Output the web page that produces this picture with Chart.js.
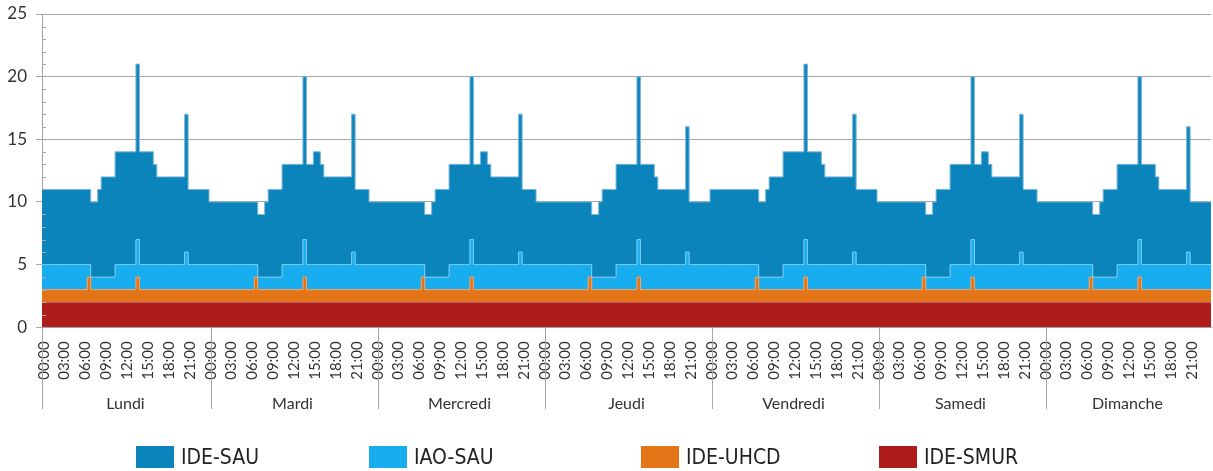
<!DOCTYPE html>
<html>
<head>
<meta charset="utf-8">
<script src="https://cdn.jsdelivr.net/npm/chart.js@4.4.1/dist/chart.umd.min.js"></script>
<style>
html,body{margin:0;padding:0;background:#fff;}
#wrap{position:relative;width:1213px;height:471px;overflow:hidden;}
#c{position:absolute;left:0;top:0;}
#legend{position:absolute;left:136px;top:446px;display:grid;grid-template-columns:233px 272px 238px auto;
  font-family:"DejaVu Sans Condensed","DejaVu Sans",sans-serif;font-size:21px;color:#222;}
.item{display:flex;align-items:center;height:22px;white-space:nowrap;}
.box{width:38px;height:22px;margin-right:7px;flex:none;}
</style>
</head>
<body>
<div id="wrap"><canvas id="c" width="1213" height="471"></canvas><div id="legend"></div></div>
<script>
// ---- categories / tick labels ----
const days = ['Lundi','Mardi','Mercredi','Jeudi','Vendredi','Samedi','Dimanche'];
const timeLabels = ['00:00','03:00','06:00','09:00','12:00','15:00','18:00','21:00'];
const yTickLabels = [0,5,10,15,20,25];
const slotsPerDay = 48; // 30-minute slots

// ---- series values (one row per day, 48 half-hour slots) ----
const ideSau = [
  6,6,6,6,6,6,6,6,6,6,6,6,6,6,6,6,7,8,8,8,8,9,9,9,9,9,9,14,9,9,9,9,8,7,7,7,7,7,7,7,7,11,6,6,6,6,6,6,
  5,5,5,5,5,5,5,5,5,5,5,5,5,5,5,5,6,7,7,7,7,8,8,8,8,8,8,13,8,8,9,9,8,7,7,7,7,7,7,7,7,11,6,6,6,6,5,5,
  5,5,5,5,5,5,5,5,5,5,5,5,5,5,5,5,6,7,7,7,7,8,8,8,8,8,8,13,8,8,9,9,8,7,7,7,7,7,7,7,7,11,6,6,6,6,5,5,
  5,5,5,5,5,5,5,5,5,5,5,5,5,5,5,5,6,7,7,7,7,8,8,8,8,8,8,13,8,8,8,8,7,6,6,6,6,6,6,6,6,10,5,5,5,5,5,5,
  6,6,6,6,6,6,6,6,6,6,6,6,6,6,6,6,7,8,8,8,8,9,9,9,9,9,9,14,9,9,9,9,8,7,7,7,7,7,7,7,7,11,6,6,6,6,6,6,
  5,5,5,5,5,5,5,5,5,5,5,5,5,5,5,5,6,7,7,7,7,8,8,8,8,8,8,13,8,8,9,9,8,7,7,7,7,7,7,7,7,11,6,6,6,6,5,5,
  5,5,5,5,5,5,5,5,5,5,5,5,5,5,5,5,6,7,7,7,7,8,8,8,8,8,8,13,8,8,8,8,7,6,6,6,6,6,6,6,6,10,5,5,5,5,5,5
];
const iaoSau = [
  2,2,2,2,2,2,2,2,2,2,2,2,2,1,1,1,1,1,1,1,1,2,2,2,2,2,2,3,2,2,2,2,2,2,2,2,2,2,2,2,2,3,2,2,2,2,2,2,
  2,2,2,2,2,2,2,2,2,2,2,2,2,1,1,1,1,1,1,1,1,2,2,2,2,2,2,3,2,2,2,2,2,2,2,2,2,2,2,2,2,3,2,2,2,2,2,2,
  2,2,2,2,2,2,2,2,2,2,2,2,2,1,1,1,1,1,1,1,1,2,2,2,2,2,2,3,2,2,2,2,2,2,2,2,2,2,2,2,2,3,2,2,2,2,2,2,
  2,2,2,2,2,2,2,2,2,2,2,2,2,1,1,1,1,1,1,1,1,2,2,2,2,2,2,3,2,2,2,2,2,2,2,2,2,2,2,2,2,3,2,2,2,2,2,2,
  2,2,2,2,2,2,2,2,2,2,2,2,2,1,1,1,1,1,1,1,1,2,2,2,2,2,2,3,2,2,2,2,2,2,2,2,2,2,2,2,2,3,2,2,2,2,2,2,
  2,2,2,2,2,2,2,2,2,2,2,2,2,1,1,1,1,1,1,1,1,2,2,2,2,2,2,3,2,2,2,2,2,2,2,2,2,2,2,2,2,3,2,2,2,2,2,2,
  2,2,2,2,2,2,2,2,2,2,2,2,2,1,1,1,1,1,1,1,1,2,2,2,2,2,2,3,2,2,2,2,2,2,2,2,2,2,2,2,2,3,2,2,2,2,2,2
];
const ideUhcd = [
  1,1,1,1,1,1,1,1,1,1,1,1,1,2,1,1,1,1,1,1,1,1,1,1,1,1,1,2,1,1,1,1,1,1,1,1,1,1,1,1,1,1,1,1,1,1,1,1,
  1,1,1,1,1,1,1,1,1,1,1,1,1,2,1,1,1,1,1,1,1,1,1,1,1,1,1,2,1,1,1,1,1,1,1,1,1,1,1,1,1,1,1,1,1,1,1,1,
  1,1,1,1,1,1,1,1,1,1,1,1,1,2,1,1,1,1,1,1,1,1,1,1,1,1,1,2,1,1,1,1,1,1,1,1,1,1,1,1,1,1,1,1,1,1,1,1,
  1,1,1,1,1,1,1,1,1,1,1,1,1,2,1,1,1,1,1,1,1,1,1,1,1,1,1,2,1,1,1,1,1,1,1,1,1,1,1,1,1,1,1,1,1,1,1,1,
  1,1,1,1,1,1,1,1,1,1,1,1,1,2,1,1,1,1,1,1,1,1,1,1,1,1,1,2,1,1,1,1,1,1,1,1,1,1,1,1,1,1,1,1,1,1,1,1,
  1,1,1,1,1,1,1,1,1,1,1,1,1,2,1,1,1,1,1,1,1,1,1,1,1,1,1,2,1,1,1,1,1,1,1,1,1,1,1,1,1,1,1,1,1,1,1,1,
  1,1,1,1,1,1,1,1,1,1,1,1,1,2,1,1,1,1,1,1,1,1,1,1,1,1,1,2,1,1,1,1,1,1,1,1,1,1,1,1,1,1,1,1,1,1,1,1
];
const ideSmur = [
  2,2,2,2,2,2,2,2,2,2,2,2,2,2,2,2,2,2,2,2,2,2,2,2,2,2,2,2,2,2,2,2,2,2,2,2,2,2,2,2,2,2,2,2,2,2,2,2,
  2,2,2,2,2,2,2,2,2,2,2,2,2,2,2,2,2,2,2,2,2,2,2,2,2,2,2,2,2,2,2,2,2,2,2,2,2,2,2,2,2,2,2,2,2,2,2,2,
  2,2,2,2,2,2,2,2,2,2,2,2,2,2,2,2,2,2,2,2,2,2,2,2,2,2,2,2,2,2,2,2,2,2,2,2,2,2,2,2,2,2,2,2,2,2,2,2,
  2,2,2,2,2,2,2,2,2,2,2,2,2,2,2,2,2,2,2,2,2,2,2,2,2,2,2,2,2,2,2,2,2,2,2,2,2,2,2,2,2,2,2,2,2,2,2,2,
  2,2,2,2,2,2,2,2,2,2,2,2,2,2,2,2,2,2,2,2,2,2,2,2,2,2,2,2,2,2,2,2,2,2,2,2,2,2,2,2,2,2,2,2,2,2,2,2,
  2,2,2,2,2,2,2,2,2,2,2,2,2,2,2,2,2,2,2,2,2,2,2,2,2,2,2,2,2,2,2,2,2,2,2,2,2,2,2,2,2,2,2,2,2,2,2,2,
  2,2,2,2,2,2,2,2,2,2,2,2,2,2,2,2,2,2,2,2,2,2,2,2,2,2,2,2,2,2,2,2,2,2,2,2,2,2,2,2,2,2,2,2,2,2,2,2
];

const totalSlots = days.length * slotsPerDay;
function stepPoints(arr) {
  const p = arr.map((v, i) => ({x: i, y: v}));
  p.push({x: arr.length, y: arr[arr.length - 1]}); // close the last half-hour step
  return p;
}
const GRID = '#a6a6a6';
const TXT = '#333333';
const FONT = 'Lato, "Open Sans", sans-serif';

const axisDecor = {
  id: 'axisDecor',
  afterDraw(chart) {
    const {ctx, chartArea, scales} = chart;
    const x = scales.x, xd = scales.xDays, y = scales.y;
    ctx.save();
    ctx.strokeStyle = GRID;
    ctx.lineWidth = 1;
    ctx.beginPath();
    days.forEach((d, i) => {
      const px = Math.round(x.getPixelForValue(i === 0 ? 0 : i * slotsPerDay + 0.5)) + 0.5;
      ctx.moveTo(px, chartArea.bottom);
      ctx.lineTo(px, xd.bottom - 4);
    });
    for (let v = 1; v < 25; v++) {
      if (yTickLabels.includes(v)) continue;
      const py = Math.round(y.getPixelForValue(v)) + 0.5;
      ctx.moveTo(chartArea.left, py);
      ctx.lineTo(chartArea.left + 4, py);
    }
    ctx.stroke();
    ctx.restore();
  }
};

const ds = (label, data, fill, bg, border) => ({
  label, data: stepPoints(data), fill, backgroundColor: bg, borderColor: border,
  borderWidth: 1, pointRadius: 0, pointHoverRadius: 0, stepped: 'before', tension: 0
});

const noSidePad = s => { s.paddingLeft = 0; s.paddingRight = 0; };

const chart = new Chart(document.getElementById('c'), {
  type: 'line',
  data: {
    datasets: [
      ds('IDE-SMUR', ideSmur, 'origin', '#ae1c1c', '#c96a6a'),
      ds('IDE-UHCD', ideUhcd, '-1', '#e37516', '#eea56b'),
      ds('IAO-SAU', iaoSau, '-1', '#17adee', '#7ccdf2'),
      ds('IDE-SAU', ideSau, '-1', '#0b84bc', '#79b6d8')
    ]
  },
  options: {
    responsive: false,
    animation: false,
    layout: {padding: {left: 0, right: 2, top: 14, bottom: 58}},
    plugins: {legend: {display: false}, tooltip: {enabled: false}},
    scales: {
      x: {
        type: 'linear', position: 'bottom', weight: 0, min: 0, max: totalSlots,
        afterFit: noSidePad,
        grid: {display: false, drawTicks: false},
        border: {display: true, color: GRID},
        afterBuildTicks: s => {
          const t = [];
          for (let k = 0; k < totalSlots / 6; k++) t.push({value: k * 6 + 0.5});
          s.ticks = t;
        },
        ticks: {
          autoSkip: false, minRotation: 90, maxRotation: 90, padding: 14,
          color: TXT, font: {family: FONT, size: 15},
          callback: (v, i) => timeLabels[i % timeLabels.length]
        }
      },
      xDays: {
        type: 'linear', position: 'bottom', weight: 1, min: 0, max: totalSlots,
        afterFit: noSidePad,
        grid: {display: false, drawTicks: false},
        border: {display: false},
        afterBuildTicks: s => { s.ticks = days.map((d, i) => ({value: i * slotsPerDay + slotsPerDay / 2})); },
        ticks: {
          autoSkip: false, maxRotation: 0, minRotation: 0, padding: 0,
          color: TXT, font: {family: FONT, size: 16},
          callback: (v, i) => days[i]
        }
      },
      y: {
        stacked: true, min: 0, max: 25,
        afterFit: s => { s.width = 42; s.paddingTop = 0; s.paddingBottom = 0; },
        grid: {
          color: c => yTickLabels.includes(c.tick.value) ? GRID : 'rgba(0,0,0,0)',
          tickLength: 6, lineWidth: 1
        },
        border: {display: true, color: GRID},
        ticks: {
          stepSize: 1, autoSkip: false, padding: 9, color: TXT,
          font: {family: FONT, size: 17},
          callback: v => yTickLabels.includes(v) ? String(v) : ''
        }
      }
    }
  },
  plugins: [axisDecor]
});

// HTML legend built from the chart's datasets (top series first)
const legendEl = document.getElementById('legend');
chart.data.datasets.slice().reverse().forEach(d => {
  const item = document.createElement('div');
  item.className = 'item';
  const box = document.createElement('span');
  box.className = 'box';
  box.style.background = d.backgroundColor;
  const txt = document.createElement('span');
  txt.textContent = d.label;
  item.appendChild(box);
  item.appendChild(txt);
  legendEl.appendChild(item);
});
</script>
</body>
</html>
